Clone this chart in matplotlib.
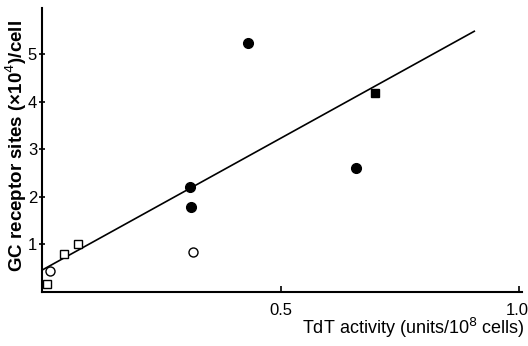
import numpy as np
import matplotlib.pyplot as plt
from matplotlib.transforms import ScaledTranslation

plt.rcParams['font.family'] = ['Liberation Sans', 'DejaVu Sans']

# TdT activity (units/10^8 cells) vs GC receptor sites (x10^4)/cell
filled_circle_x = [0.432, 0.31, 0.313, 0.658]
filled_circle_y = [5.24, 2.21, 1.77, 2.60]
filled_square_x = [0.698]
filled_square_y = [4.18]
open_circle_x = [0.017, 0.317]
open_circle_y = [0.44, 0.84]
open_square_x = [0.01, 0.046, 0.075]
open_square_y = [0.15, 0.80, 1.00]
fit_x = [0.0, 0.906]
fit_y = [0.45, 5.48]

fig = plt.figure(figsize=(5.28, 3.46), dpi=100)
ax = fig.add_axes([42 / 528, 54.5 / 346, 480 / 528, 283.5 / 346])

ax.plot(fit_x, fit_y, color='black', lw=1.2, zorder=1)
ax.plot(filled_circle_x, filled_circle_y, 'o', color='black', ms=7, zorder=3)
ax.plot(filled_square_x, filled_square_y, 's', color='black', ms=6, zorder=3)
ax.plot(open_circle_x, open_circle_y, 'o', mfc='white', mec='black', mew=1.0, ms=6.5, zorder=3)
ax.plot(open_square_x, open_square_y, 's', mfc='white', mec='black', mew=1.0, ms=6, zorder=3)

ax.set_xlim(0, 1.006)
ax.set_ylim(0, 5.97)
ax.set_xticks([0.5, 1.0])
ax.set_xticklabels(['0.5', '1.0'])
ax.set_yticks([1, 2, 3, 4, 5])
ax.spines['top'].set_visible(False)
ax.spines['right'].set_visible(False)
for s in ['left', 'bottom']:
    ax.spines[s].set_linewidth(1.5)
ax.tick_params(axis='y', direction='inout', length=5, width=1.2, labelsize=12, pad=1)
ax.tick_params(axis='x', direction='in', length=4, width=1.2, labelsize=12, pad=8)
last = ax.get_xticklabels()[1]
last.set_horizontalalignment('right')
last.set_transform(last.get_transform() + ScaledTranslation(7 / 72, 0, fig.dpi_scale_trans))

fig.text(16 / 528, 1 - 146 / 346, 'GC receptor sites (×10$^4$)/cell', rotation=90,
         ha='center', va='center', fontsize=13.5, fontweight='bold')
fig.text(525 / 528, 1 - 328 / 346, 'TdT activity (units/10$^8$ cells)', ha='right', va='center', fontsize=13)

fig.savefig('out.png', dpi=100)
